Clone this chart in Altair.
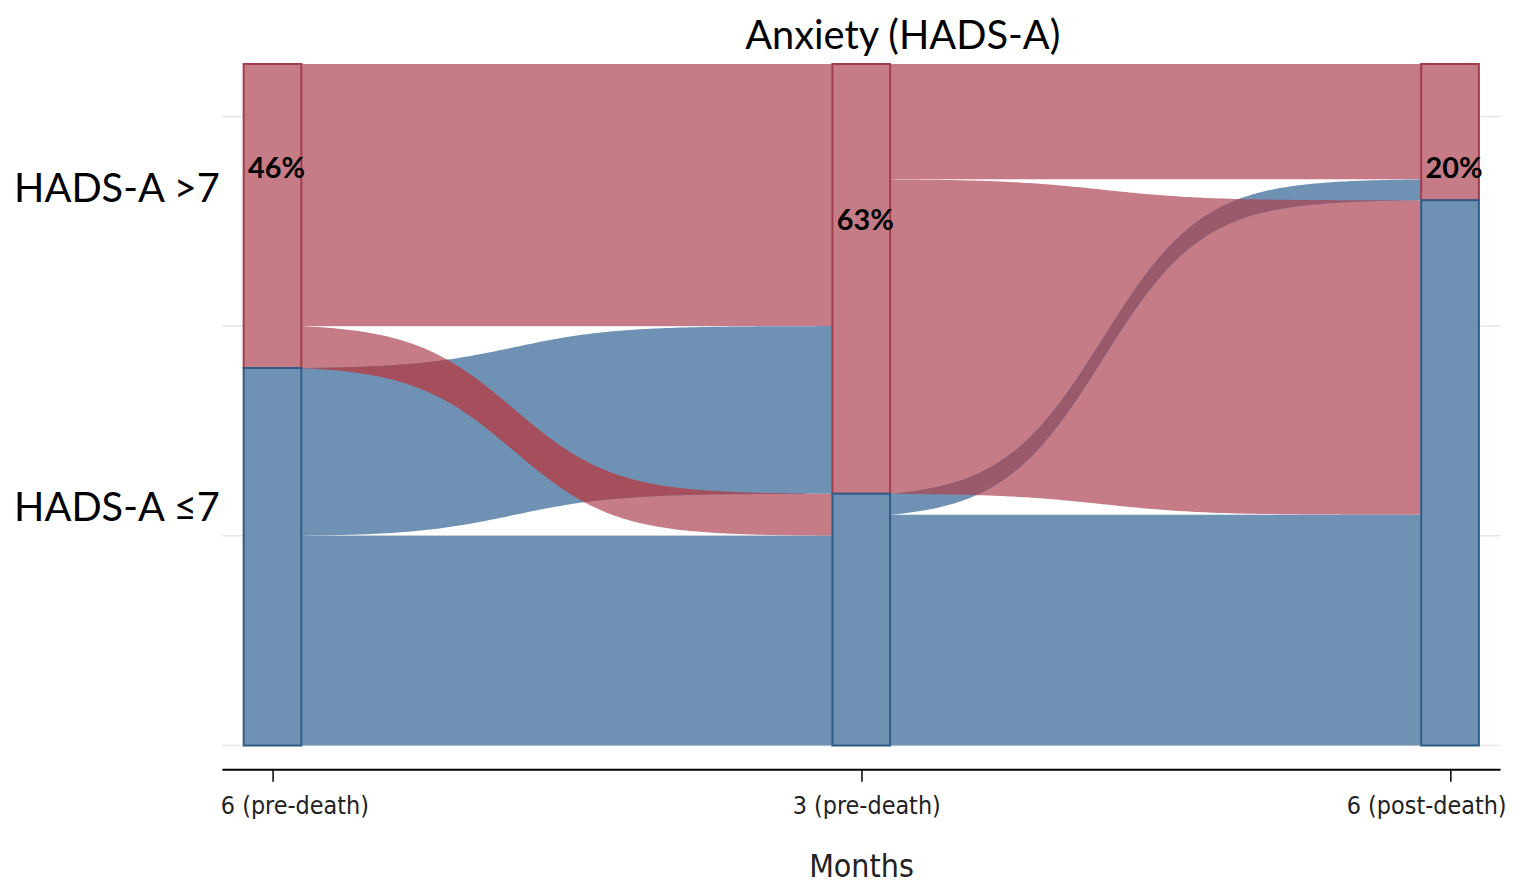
import json
import numpy as np
import pandas as pd
import altair as alt

# ---------------- data ----------------
times = ["6 (pre-death)", "3 (pre-death)", "6 (post-death)"]
states = ["HADS-A >7", "HADS-A \u22647"]          # red, blue
# transition counts: rows = state at start, cols = state at end
flow_1_2 = [[25, 4], [16, 20]]
flow_2_3 = [[11, 30], [2, 22]]
pct_labels = ["46%", "63%", "20%"]
pct_label_y = [55, 50, 55]           # anchor (count units) of the % labels
state_label_y = [53, 22.5]           # anchor (count units) of the state labels
grid_values = [0, 20, 40, 60]

# ---------------- styles ----------------
state_fill = ["#c67c87", "#6e91b4"]
state_stroke = ["#a23d4b", "#2f5d88"]
overlap_fill = ["#a64f5c", "#9b5a6c"]
HW = 0.049            # half bar width (x units)
K, C = 10.5, 0.40     # sigmoid shape of the ribbons
XDOM = [-0.086, 2.085]
YDOM = [-2.28, 65]
NARROW = "Liberation Sans Narrow, Arial Narrow, DejaVu Sans Condensed, DejaVu Sans"

segments = [flow_1_2, flow_2_3]
total = sum(sum(r) for r in flow_1_2)


def rowsums(m):
    return [sum(r) for r in m]


def colsums(m):
    return [sum(m[i][j] for i in range(len(m))) for j in range(len(m[0]))]


# ---------------- bars ----------------
bar_rows = []
for k in range(len(times)):
    sizes = rowsums(segments[0]) if k == 0 else colsums(segments[k - 1])
    acc = 0
    for i, s in enumerate(sizes):
        bar_rows.append(dict(x=k - HW, x2=k + HW, y=total - acc, y2=total - acc - s,
                             fill=state_fill[i], stroke=state_stroke[i]))
        acc += s
bars = pd.DataFrame(bar_rows)

# ---------------- ribbons ----------------
ts = np.linspace(0, 1, 161)
L = lambda t: 1 / (1 + np.exp(-K * (t - C)))
sg = (L(ts) - L(0)) / (L(1) - L(0))

flow_rows, over_rows = [], []
for k, m in enumerate(segments):
    rs, cs = rowsums(m), colsums(m)
    xs = k + HW + ts * (1 - 2 * HW)
    geo = []
    for i in range(len(m)):
        for j in range(len(m[0])):
            lt = sum(rs[:i]) + sum(m[i][:j])
            rt = sum(cs[:j]) + sum(m[ii][j] for ii in range(i))
            top = lt + (rt - lt) * sg
            bot = top + m[i][j]
            geo.append((i, j, top, bot))
            fid = f"s{k}_{i}_{j}"
            for x, a, b in zip(xs, top, bot):
                flow_rows.append(dict(fid=fid, x=x, y=total - a, y2=total - b,
                                      fill=state_fill[i]))
    for p in range(len(geo)):
        for q in range(p + 1, len(geo)):
            a_top = np.maximum(geo[p][2], geo[q][2])
            a_bot = np.minimum(geo[p][3], geo[q][3])
            a_bot = np.maximum(a_bot, a_top)
            if np.max(a_bot - a_top) > 1e-6:
                fid = f"o{k}_{p}_{q}"
                for x, a, b in zip(xs, a_top, a_bot):
                    over_rows.append(dict(fid=fid, x=x, y=total - a, y2=total - b,
                                          fill=overlap_fill[k]))
flows = pd.DataFrame(flow_rows)
overs = pd.DataFrame(over_rows)

pct = pd.DataFrame(dict(x=list(range(len(times))), y=pct_label_y, label=pct_labels))
slab = pd.DataFrame(dict(y=state_label_y, label=states))
grid = pd.DataFrame(dict(y=grid_values))

# ---------------- encodings ----------------
label_expr = json.dumps(times) + "[datum.value]"
xaxis = alt.Axis(values=[0, 1, 2], labelExpr=label_expr, grid=False,
                 domainColor="black", domainWidth=2, tickColor="black", tickWidth=1.5,
                 tickSize=12, labelFont=NARROW, labelFontSize=25, labelColor="#222222",
                 labelPadding=12,
                 labelOffset={"condition": [{"test": "datum.value == 0", "value": 22},
                                            {"test": "datum.value == 2", "value": -24}],
                              "value": 5},
                 title="Months", titleFont=NARROW, titleFontSize=32, titleFontWeight="normal",
                 titleColor="#222222", titlePadding=34)
xs_ = alt.Scale(domain=XDOM, nice=False, zero=False)
ys_ = alt.Scale(domain=YDOM, nice=False, zero=False)
X = lambda f: alt.X(f, scale=xs_, axis=xaxis)
Y = lambda f: alt.Y(f, scale=ys_, axis=None)

grid_layer = alt.Chart(grid).mark_rule(color="#e6e6e6", strokeWidth=1.5).encode(y=Y("y:Q"))

flow_layer = alt.Chart(flows).mark_area(interpolate="linear", strokeWidth=0).encode(
    x=X("x:Q"), y=Y("y:Q"), y2="y2:Q", detail="fid:N",
    color=alt.Color("fill:N", scale=None))

over_layer = alt.Chart(overs).mark_area(interpolate="linear", strokeWidth=0).encode(
    x=X("x:Q"), y=Y("y:Q"), y2="y2:Q", detail="fid:N",
    color=alt.Color("fill:N", scale=None))

bar_layer = alt.Chart(bars).mark_rect(strokeWidth=2).encode(
    x=X("x:Q"), x2="x2:Q", y=Y("y:Q"), y2="y2:Q",
    fill=alt.Fill("fill:N", scale=None), stroke=alt.Stroke("stroke:N", scale=None))

pct_layer = alt.Chart(pct).mark_text(font="Lato", fontSize=29, fontWeight="bold",
                                     color="black", align="center", baseline="middle", dx=4).encode(
    x=X("x:Q"), y=Y("y:Q"), text="label:N")

state_layer = alt.Chart(slab).mark_text(font="Lato", fontSize=40, color="black",
                                        align="right", baseline="middle").encode(
    x=alt.value(-2), y=Y("y:Q"), text="label:N")

chart = alt.layer(grid_layer, flow_layer, over_layer, bar_layer, pct_layer, state_layer).properties(
    width=1285, height=709,
    background="white",
    autosize=alt.AutoSizeParams(type="none"),
    padding={"left": 215, "top": 54, "right": 16, "bottom": 118},
    title=alt.TitleParams("Anxiety (HADS-A)", font="Lato", fontSize=40, fontWeight="normal",
                          color="black", anchor="middle", dx=42, offset=6),
).configure_view(stroke=None)

chart.save("out.html", embed_options={"renderer": "svg", "actions": False})
